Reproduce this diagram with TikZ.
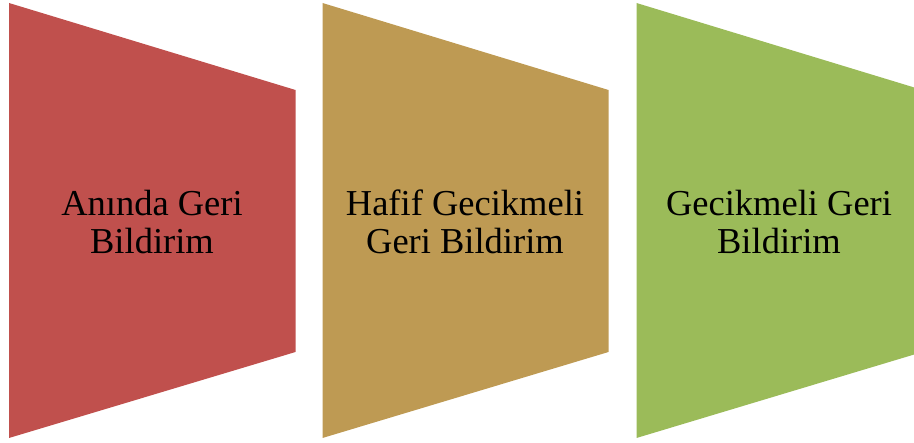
\documentclass[tikz,border=0pt]{standalone}
\usepackage{fontspec}
\setmainfont{Liberation Serif}
\definecolor{cred}{HTML}{C0504D}
\definecolor{ctan}{HTML}{BE9A53}
\definecolor{cgreen}{HTML}{9BBB59}
\begin{document}
\begin{tikzpicture}[x=1pt,y=-1pt,
  lbl/.style={align=center,font=\fontsize{36.5}{38.5}\selectfont,text=black,inner sep=0pt}]
\useasboundingbox (0,0) rectangle (914,443);
\clip (0,0) rectangle (914,443);
\fill[cred] (9,3) -- (295.5,90) -- (295.5,352) -- (9,438) -- cycle;
\fill[ctan] (322.5,3) -- (608.5,90) -- (608.5,352) -- (322.5,438) -- cycle;
\fill[cgreen] (636.5,3) -- (922.5,90) -- (922.5,352) -- (636.5,438) -- cycle;
\node[lbl] (t1) at (152,222) {Anında Geri\\Bildirim};
\node[lbl] (t2) at (465,222) {Hafif Gecikmeli\\Geri Bildirim};
\node[lbl] (t3) at (779,222) {Gecikmeli Geri\\Bildirim};
\end{tikzpicture}
\end{document}
